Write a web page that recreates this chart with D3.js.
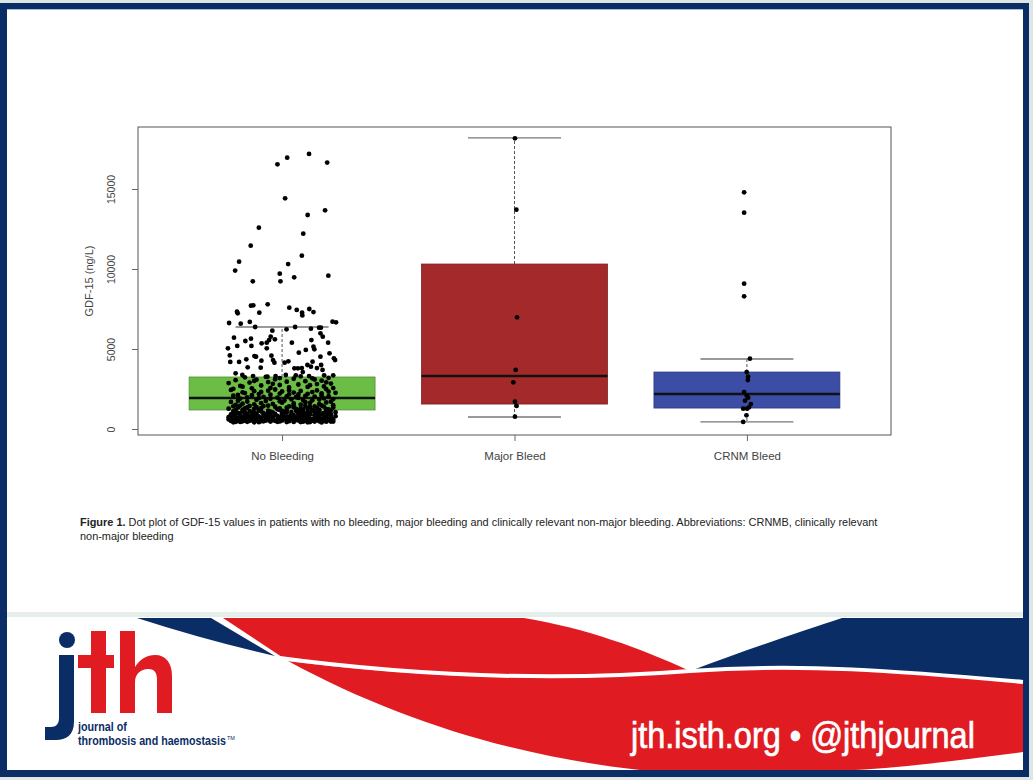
<!DOCTYPE html>
<html><head><meta charset="utf-8">
<script src="https://cdn.jsdelivr.net/npm/d3@7"></script>
<style>body{margin:0;background:#fff}svg{display:block}</style>
</head><body>
<svg id="c" width="1033" height="780"></svg>
<script>
// ---------------- DATA ----------------
const categories = ["No Bleeding", "Major Bleed", "CRNM Bleed"];
const q1 = [1190, 1560, 1310];
const medians = [1940, 3310, 2190];
const q3 = [3250, 10310, 3560];
const whiskerLow = [440, 750, 440];
const whiskerHigh = [6375, 18190, 4375];
const yTickValues = [0, 5000, 10000, 15000];
const yTitle = "GDF-15 (ng/L)";
const captionBold = "Figure 1.";
const captionLine1 = " Dot plot of GDF-15 values in patients with no bleeding, major bleeding and clinically relevant non-major bleeding. Abbreviations: CRNMB, clinically relevant";
const captionLine2 = "non-major bleeding";

// [value, jitter offset in category units]
const noBleedingHigh = [
 [17190,0.116],[16960,0.022],[16540,-0.020],[16650,0.194],[14420,0.013],[13670,0.185],[13375,0.110],
 [12585,-0.100],[12210,0.091],[11460,-0.135],[10460,-0.185],[9900,-0.202],[10830,0.085],[10310,0.026],
 [9710,-0.010],[9230,-0.007],[9480,0.052],[9230,-0.126],[9585,0.199],[7710,-0.134],[7730,-0.124],
 [7790,-0.062],[7330,-0.194],[7230,-0.191],[7270,-0.098],[7580,0.031],[7440,0.063],[7270,0.086],
 [7100,0.087],[7500,0.117],[7310,0.135],[6625,-0.228],[6580,-0.178],[6690,-0.139],[6710,0.217],
 [6670,0.232],[6375,-0.116],[6375,0.056],[6270,0.124],[6330,0.159],[6330,0.167],[6230,0.019],[6145,-0.042]
];
const noBleedingMid = [
 [5710,-0.207],[5190,-0.193],[5040,-0.233],[5500,-0.158],[5645,-0.134],[5190,-0.132],[4600,-0.225],
 [4190,-0.223],[4190,-0.185],[4355,-0.154],[3855,-0.148],[4560,-0.119],[4520,-0.112],[4270,-0.089],
 [3835,-0.092],[5355,-0.088],[5395,-0.066],[5560,-0.056],[5770,-0.049],[5605,-0.031],[5040,-0.066],
 [4585,-0.046],[4310,-0.039],[4145,-0.033],[4145,0.011],[4230,0.027],[5395,0.042],[4770,0.072],
 [3790,0.053],[3790,0.068],[3810,0.085],[3560,0.089],[4940,0.102],[4000,0.109],[3895,0.124],
 [4210,0.131],[5145,0.135],[4980,0.139],[5560,0.126],[5980,0.165],[5770,0.175],[4520,0.165],
 [4000,0.168],[3690,0.174],[5395,0.198],[4730,0.204],[4420,0.223],[4310,0.228],[3810,0.150],
 [3480,-0.200],[3375,-0.171],[3310,-0.125],[3270,-0.063],[3310,-0.028],[3375,0.016],[3355,0.059],
 [3310,0.116],[3355,0.181],[3355,0.220]
];
const noBleedingLow = [
 [420,-0.21],[450,-0.15],[480,-0.08],[430,0.02],[460,0.09],[410,0.17],[470,0.22],[520,-0.19],[540,-0.11],
 [510,-0.03],[560,0.05],[530,0.13],[550,0.20],[600,-0.23],[620,-0.16],[580,-0.06],[640,0.01],[610,0.08],
 [590,0.15],[630,0.21],[680,-0.20],[700,-0.13],[660,-0.09],[720,-0.01],[690,0.06],[710,0.11],[670,0.18],
 [740,-0.22],[760,-0.17],[780,-0.10],[750,-0.04],[770,0.03],[790,0.10],[730,0.16],[800,0.23],[820,-0.18],
 [850,-0.12],[830,-0.05],[870,0.00],[840,0.07],[860,0.14],[880,0.19],[890,-0.21],[440,-0.18],[490,-0.12],
 [465,-0.05],[445,0.05],[495,0.12],[455,0.19],[505,-0.22],[525,-0.07],[545,0.00],[575,0.10],[565,0.17],
 [615,-0.20],[645,-0.14],[605,-0.02],[655,0.04],[625,0.12],[595,0.22],[675,-0.17],[705,-0.07],[685,0.02],
 [715,0.09],[695,0.14],[735,-0.23],[765,-0.14],[745,-0.06],[785,0.01],[755,0.08],[795,0.18],[810,-0.16],
 [835,-0.08],[815,0.04],[855,0.11],[845,0.21],[875,-0.13],[865,-0.03],[885,0.08],[895,0.16],[425,-0.10],
 [435,0.12],[475,-0.01],[485,0.16],[515,-0.14],[535,0.07],[555,-0.09],[585,-0.19],[635,0.18],[665,-0.11],[725,0.05],
 [415,-0.12],[432,0.08],[448,-0.02],[462,0.14],[478,-0.17],[492,0.03],[508,0.10],[522,-0.05],[538,0.18],
 [552,-0.21],[568,-0.13],[582,0.06],[598,-0.04],[612,0.13],[628,-0.09],[642,0.20],[658,-0.18],[672,0.07],
 [688,-0.11],[702,0.16],[718,-0.06],[732,0.10],[748,-0.15],[762,0.02],[778,0.19],[792,-0.20],[808,0.09],
 [822,-0.02],[838,0.15],[852,-0.16],[868,0.05],[882,-0.07],[898,0.12],[418,0.11],[442,-0.20],[468,0.21],
 [488,-0.09],[512,0.18],[532,-0.16],[572,0.00],[618,0.03],
 [910,-0.22],[930,-0.15],[950,-0.08],[970,0.00],[990,0.07],[920,0.14],[940,0.20],[1000,-0.19],[1020,-0.12],
 [1040,-0.04],[1060,0.04],[1080,0.11],[1010,0.18],[1050,0.23],[1100,-0.21],[1120,-0.14],[1140,-0.06],
 [1160,0.02],[1110,0.09],[1130,0.16],[1170,0.21],[1190,-0.17],[1210,-0.10],[1230,-0.02],[1250,0.06],
 [1200,0.13],[1240,0.19],[1270,-0.23],[1290,-0.16],[1310,-0.09],[1280,-0.01],[1300,0.08],[1320,0.15],
 [1340,0.22],[1350,-0.19],[1370,-0.11],[1390,-0.03],[1360,0.05],[1380,0.12],[1400,0.18],[1420,-0.21],
 [1440,-0.14],[1460,-0.06],[1410,0.03],[1450,0.10],[1470,0.17],[1490,0.22],[960,-0.11],[980,0.10],
 [1030,-0.20],[1070,0.01],[1090,-0.09],[1150,0.13],[1180,-0.01],[1220,0.20],[1260,-0.12],[1330,0.02],
 [1430,-0.08],[1480,0.05],[945,0.17],[1015,-0.06],[1125,0.06],[1195,0.16],[1285,0.11],[1345,-0.15],
 [1415,0.14],[1465,-0.18],[1055,-0.16],[1235,0.09],[905,0.04],
 [912,-0.13],[928,0.21],[942,-0.03],[958,0.09],[972,-0.18],[988,0.15],[1002,-0.08],[1018,0.02],[1032,0.12],
 [1048,-0.13],[1062,0.19],[1078,-0.05],[1092,0.08],[1108,-0.17],[1122,0.14],[1138,0.00],[1152,-0.10],
 [1168,0.07],[1182,-0.20],
 [1510,-0.20],[1540,-0.12],[1570,-0.04],[1600,0.05],[1630,0.12],[1660,0.19],[1690,-0.22],[1720,-0.15],
 [1750,-0.07],[1780,0.01],[1810,0.09],[1840,0.16],[1870,0.22],[1900,-0.18],[1930,-0.10],[1960,-0.02],
 [1990,0.06],[2020,0.14],[2050,0.20],[2080,-0.21],[2110,-0.13],[2140,-0.05],[2170,0.03],[2200,0.11],
 [2230,0.17],[2260,0.23],[2290,-0.17],[2320,-0.09],[2350,0.00],[2380,0.08],[2410,0.15],[2440,-0.22],
 [2470,-0.03],[2490,0.19],[1525,0.08],[1555,0.16],[1585,-0.17],[1615,-0.09],[1645,0.00],[1675,0.10],
 [1705,0.21],[1735,-0.01],[1765,-0.19],[1795,0.13],[1825,-0.11],[1855,0.04],[1885,-0.05],[1915,0.18],
 [1945,0.07],[1975,-0.15],[2005,-0.08],[2035,0.02],[2065,0.10],[2095,0.17],[2125,-0.19],[2155,0.07],
 [2185,-0.10],[2215,-0.01],[2245,-0.16],[2275,0.05],[2305,0.13],[2335,0.20],[2365,-0.12],[2395,-0.06],[2425,0.03],
 [2510,-0.21],[2540,-0.13],[2570,-0.05],[2600,0.03],[2630,0.11],[2660,0.18],[2690,-0.18],[2720,-0.09],
 [2750,-0.01],[2780,0.07],[2810,0.15],[2840,0.21],[2870,-0.23],[2900,-0.14],[2930,-0.06],[2960,0.02],
 [2990,0.10],[3020,0.17],[3050,-0.20],[3080,-0.11],[3110,-0.03],[3140,0.05],[3170,0.13],[3200,0.20],
 [3230,-0.16],[3260,-0.07],[3290,0.08],[2555,0.22],[2645,-0.17],[2735,0.12],[2825,-0.04],[2915,0.19],
 [3005,-0.12],[3095,0.14],[3185,-0.01]
];
const majorBleedPts = [[18170,0.002],[13710,0.008],[6980,0.011],[3690,0.005],[2915,-0.005],[1710,0.002],[1440,0.009],[770,0.002]];
const crnmBleedPts = [[14790,-0.012],[13520,-0.012],[9080,-0.012],[8290,-0.012],[4395,0.013],[3560,-0.001],[3270,0.005],
 [3060,0.004],[2310,-0.012],[2100,-0.001],[1960,0.005],[1770,-0.008],[1560,0.017],[1355,0.009],[1270,-0.016],
 [1270,0.001],[855,-0.002],[440,-0.016]];

// ---------------- STYLE ----------------
const boxColors = ["#6cbd45", "#a3292a", "#3b4da5"];
const NAVY = "#0b2d66", RED = "#e11b22";

const svg = d3.select("#c");
const W = 1033, H = 780;

// frame
svg.append("rect").attr("width", W).attr("height", H).attr("fill", "#dfe4e4");
svg.append("rect").attr("x", 0).attr("y", 3).attr("width", 1029).attr("height", 774).attr("fill", NAVY);
svg.append("rect").attr("x", 7).attr("y", 9).attr("width", 1016).attr("height", 761).attr("fill", "#fff");
svg.append("line").attr("x1", 7).attr("x2", 1023).attr("y1", 9.5).attr("y2", 9.5).attr("stroke", "#9fbfdc");
svg.append("rect").attr("x", 7).attr("y", 612).attr("width", 1016).attr("height", 5).attr("fill", "#e6eeec");

// ---------------- CHART ----------------
const L = 138, R = 891, T = 127, B = 435;
const x = d3.scaleLinear().domain([0.38, 3.62]).range([L, R]);
const y = d3.scaleLinear().domain([-375, 18875]).range([B, T]);
const g = svg.append("g");
const boxW = 0.8, capW = 0.4;

categories.forEach((c, i) => {
  const cx = i + 1;
  g.append("line").attr("x1", x(cx)).attr("x2", x(cx)).attr("y1", y(q3[i])).attr("y2", y(whiskerHigh[i]))
    .attr("stroke", "#555").attr("stroke-dasharray", "3,2").attr("stroke-width", 1);
  g.append("line").attr("x1", x(cx)).attr("x2", x(cx)).attr("y1", y(q1[i])).attr("y2", y(whiskerLow[i]))
    .attr("stroke", "#555").attr("stroke-dasharray", "3,2").attr("stroke-width", 1);
  [whiskerHigh[i], whiskerLow[i]].forEach(v => {
    g.append("line").attr("x1", x(cx - capW / 2)).attr("x2", x(cx + capW / 2)).attr("y1", y(v)).attr("y2", y(v))
      .attr("stroke", "#777").attr("stroke-width", 1.3);
  });
  g.append("rect").attr("x", x(cx - boxW / 2)).attr("width", x(cx + boxW / 2) - x(cx - boxW / 2))
    .attr("y", y(q3[i])).attr("height", y(q1[i]) - y(q3[i]))
    .attr("fill", boxColors[i]).attr("stroke", d3.color(boxColors[i]).darker(0.8)).attr("stroke-width", 0.8);
  g.append("line").attr("x1", x(cx - boxW / 2)).attr("x2", x(cx + boxW / 2)).attr("y1", y(medians[i])).attr("y2", y(medians[i]))
    .attr("stroke", "#111").attr("stroke-width", 2.6);
});

// points
const groups = [noBleedingHigh.concat(noBleedingMid, noBleedingLow), majorBleedPts, crnmBleedPts];
groups.forEach((pts, i) => {
  g.selectAll(null).data(pts).enter().append("circle")
    .attr("cx", d => x(i + 1 + d[1])).attr("cy", d => y(d[0])).attr("r", 2.4).attr("fill", "#000");
});

// frame of plot
g.append("rect").attr("x", L).attr("y", T).attr("width", R - L).attr("height", B - T)
  .attr("fill", "none").attr("stroke", "#555").attr("stroke-width", 1);

// y axis
const ya = g.append("g").attr("transform", `translate(${L},0)`)
  .call(d3.axisLeft(y).tickValues(yTickValues).tickSize(6).tickFormat(d3.format("d")));
ya.select(".domain").remove();
ya.selectAll(".tick line").attr("stroke", "#666");
ya.selectAll(".tick text").attr("x", null).attr("dy", null)
  .attr("transform", "translate(-23,0) rotate(-90)").attr("text-anchor", "middle")
  .attr("font-family", "Liberation Sans, Arial, sans-serif").attr("font-size", 10.5).attr("fill", "#444");

// x axis
const xa = g.append("g").attr("transform", `translate(0,${B})`)
  .call(d3.axisBottom(x).tickValues([1, 2, 3]).tickSize(6).tickPadding(11).tickFormat((d, i) => categories[i]));
xa.select(".domain").remove();
xa.selectAll(".tick line").attr("stroke", "#666");
xa.selectAll(".tick text").attr("font-family", "Liberation Sans, Arial, sans-serif").attr("font-size", 11.5).attr("fill", "#444");

g.append("text").attr("transform", `translate(93,${(T + B) / 2}) rotate(-90)`).attr("text-anchor", "middle")
  .attr("font-family", "Liberation Sans, Arial, sans-serif").attr("font-size", 11).attr("fill", "#444").text(yTitle);

function fitWidth(sel, x0, w) {
  const len = sel.node().getComputedTextLength();
  const s = w / len;
  sel.attr("transform", `translate(${x0},0) scale(${s},1) translate(${-x0},0)`);
  return s;
}

// caption
const cap1 = svg.append("text").attr("x", 80).attr("y", 526)
  .attr("font-family", "Liberation Sans, Arial, sans-serif").attr("font-size", 10).attr("fill", "#222");
cap1.append("tspan").attr("font-weight", "bold").text(captionBold);
cap1.append("tspan").text(captionLine1);
const sc = fitWidth(cap1, 80, 798);
const cap2 = svg.append("text").attr("x", 80).attr("y", 540)
  .attr("font-family", "Liberation Sans, Arial, sans-serif").attr("font-size", 10).attr("fill", "#222").text(captionLine2);
cap2.attr("transform", `translate(80,0) scale(${sc},1) translate(-80,0)`);

// ---------------- FOOTER BANNER ----------------
const f = svg.append("g");
f.append("path").attr("fill", RED)
  .attr("d", "M288,661 C420,678 560,682 690,671 C800,663 900,671 1023,682 L1023,752 C960,760 900,768 855,770 L640,770 C520,757 400,722 288,661 Z");
f.append("path").attr("fill", RED)
  .attr("d", "M223,618 L524,618 C585,628 640,648 690,671 C560,682 420,678 288,661 Z");
f.append("path").attr("fill", NAVY)
  .attr("d", "M842,618 L1023,618 L1023,682 C900,671 800,663 690,671 C745,650 800,632 842,618 Z");
f.append("path").attr("fill", "none").attr("stroke", "#fff").attr("stroke-width", 4)
  .attr("d", "M272,657 C420,677 560,681 690,671 C800,663 900,671 1023,682");
f.append("path").attr("fill", NAVY)
  .attr("d", "M137,618 L211,618 L275,656 Q205,640 137,618 Z");

const url = f.append("text").attr("x", 631).attr("y", 748).attr("fill", "#fff")
  .attr("stroke", "#fff").attr("stroke-width", 0.7)
  .attr("font-family", "Liberation Sans Narrow, Liberation Sans, Arial, sans-serif").attr("font-size", 37)
  .text("jth.isth.org \u2022 @jthjournal");
fitWidth(url, 631, 344);

// logo
const logo = svg.append("g");
logo.append("circle").attr("cx", 67).attr("cy", 640).attr("r", 8).attr("fill", NAVY);
logo.append("path").attr("fill", NAVY)
  .attr("d", "M59,655 H74 V722 C74,735 66,740 56,740 H45 V727 H51 C56,727 59,724 59,718 Z");
logo.append("path").attr("fill", RED)
  .attr("d", "M91,631 H106 V655 H114 V668 H106 V713 H91 V668 H78 V655 H91 Z");
logo.append("path").attr("fill", RED)
  .attr("d", "M120,631 H135 V667 C140,659 147,655 155,655 C166,655 172,663 172,676 V713 H157 V680 C157,672 154,669 148,669 C141,669 135,674 135,682 V713 H120 Z");
const j1 = logo.append("text").attr("x", 78).attr("y", 731).attr("fill", NAVY)
  .attr("font-family", "Liberation Sans Narrow, Liberation Sans, Arial, sans-serif").attr("font-weight", "bold").attr("font-size", 12.5)
  .text("journal of");
fitWidth(j1, 78, 49);
const j2 = logo.append("text").attr("x", 78).attr("y", 745).attr("fill", NAVY)
  .attr("font-family", "Liberation Sans Narrow, Liberation Sans, Arial, sans-serif").attr("font-weight", "bold").attr("font-size", 12.5)
  .text("thrombosis and haemostasis");
fitWidth(j2, 78, 148);
logo.append("text").attr("x", 227).attr("y", 740).attr("fill", NAVY)
  .attr("font-family", "Liberation Sans, Arial, sans-serif").attr("font-size", 5.5).text("TM");
</script>
</body></html>
